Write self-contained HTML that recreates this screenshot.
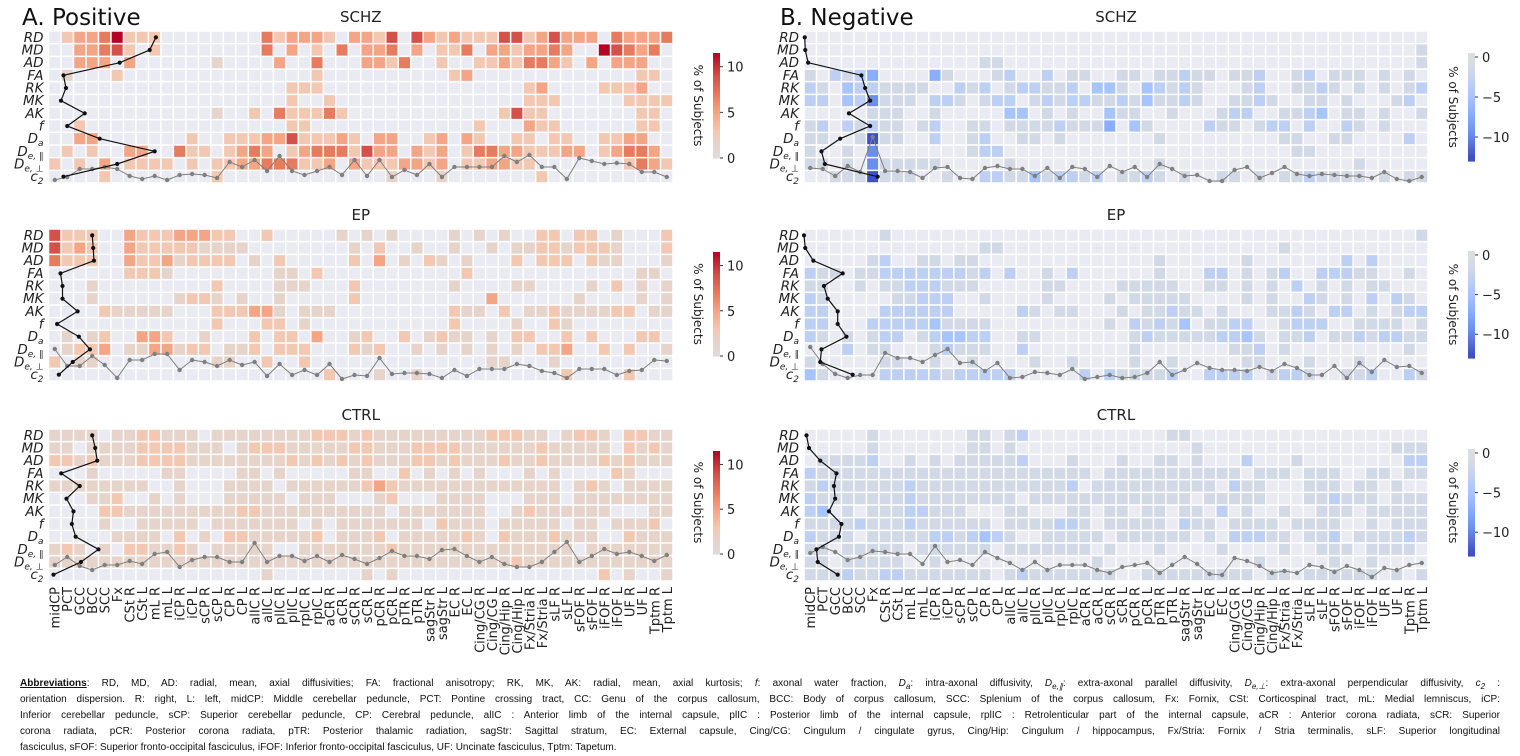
<!DOCTYPE html>
<html><head><meta charset="utf-8">
<style>
html,body{margin:0;padding:0;background:#fff;}
#wrap{position:relative;width:1520px;height:756px;overflow:hidden;}
svg{position:absolute;left:0;top:0;}
.fn{position:absolute;left:20px;width:1480px;height:16px;overflow:hidden;font-family:"Liberation Sans",sans-serif;font-size:10px;line-height:16px;color:#111;text-align:justify;text-align-last:justify;white-space:normal;}
.fn.last{text-align-last:left;}
.fn sub{font-size:8px;line-height:0;}
</style></head>
<body>
<div id="wrap">
<svg id="fig" width="1520" height="756" viewBox="0 0 1520 756" xmlns="http://www.w3.org/2000/svg"></svg>
<div class="fn" style="top:676px"><b><u>Abbreviations</u></b>: RD, MD, AD: radial, mean, axial diffusivities; FA: fractional anisotropy; RK, MK, AK: radial, mean, axial kurtosis; <i>f</i>: axonal water fraction, <i>D<sub>a</sub></i>: intra-axonal diffusivity, <i>D<sub>e,∥</sub></i>: extra-axonal parallel diffusivity, <i>D<sub>e,⊥</sub></i>: extra-axonal perpendicular diffusivity, <i>c<sub>2</sub></i> :</div>
<div class="fn" style="top:692px">orientation dispersion. R: right, L: left, midCP: Middle cerebellar peduncle, PCT: Pontine crossing tract, CC: Genu of the corpus callosum, BCC: Body of corpus callosum, SCC: Splenium of the corpus callosum, Fx: Fornix, CSt: Corticospinal tract, mL: Medial lemniscus, iCP:</div>
<div class="fn" style="top:708px">Inferior cerebellar peduncle, sCP: Superior cerebellar peduncle, CP: Cerebral peduncle, alIC : Anterior limb of the internal capsule, plIC : Posterior limb of the internal capsule, rplIC : Retrolenticular part of the internal capsule, aCR : Anterior corona radiata, sCR: Superior</div>
<div class="fn" style="top:724px">corona radiata, pCR: Posterior corona radiata, pTR: Posterior thalamic radiation, sagStr: Sagittal stratum, EC: External capsule, Cing/CG: Cingulum / cingulate gyrus, Cing/Hip: Cingulum / hippocampus, Fx/Stria: Fornix / Stria terminalis, sLF: Superior longitudinal</div>
<div class="fn last" style="top:740px">fasciculus, sFOF: Superior fronto-occipital fasciculus, iFOF: Inferior fronto-occipital fasciculus, UF: Uncinate fasciculus, Tptm: Tapetum.</div>
</div>
<script>
const tracts = ["midCP","PCT","GCC","BCC","SCC","Fx","CSt R","CSt L","mL R","mL L","iCP R","iCP L","sCP R","sCP L","CP R","CP L","alIC R","alIC L","plIC R","plIC L","rpIC R","rpIC L","aCR R","aCR L","sCR R","sCR L","pCR R","pCR L","pTR R","pTR L","sagStr R","sagStr L","EC R","EC L","Cing/CG R","Cing/CG L","Cing/Hip R","Cing/Hip L","Fx/Stria R","Fx/Stria L","sLF R","sLF L","sFOF R","sFOF L","iFOF R","iFOF L","UF R","UF L","Tptm R","Tptm L"];
const metrics = ["RD","MD","AD","FA","RK","MK","AK","f","Da","Dpar","Dperp","c2"];
const posLevels = [0,1.5,3,5,7,9,11.5];
const negLevels = [0,-1.5,-3,-5,-7,-9.5,-12.5];
const posTicks = [0,5,10];
const negTicks = [0,-5,-10];

const posSCHZ = ["02334622200000000423332033250532322255235333043334020","00334520200000000403020403340302240332334300654340020","00333030000001000030040003324002002232443203033300220","01000200000000000000020000000000230000000000000220020","00000000000000000002220000000000000000230000222300000","00000000000000000002002000000000000000222000002222000","00000000000001002042224200000000000025220000000220000","00200000000000000002200000000000002000322000000220300","00330000000200222335222320330023032002202200223300000","02020033004220234302344425330323024433222330234430222","20203022220202233444223032223323022332200000002432222","00002000000002000000000000010001000000020000000000020"];
const posEP = ["52220032223332200200000101010000101010022022010002230","52320032222211110000000010200100100101122122210002030","42220032231222201020000020301021010002022202110001220","00000022210000000011020000000000020000000000000110120","00010000000002000011100020000000100001100001020101122","00010000001221010010000020000000000300000010000101010","00002111110002223310111000000000211020112111122011102","00000000000002000220100000000000200001002100000000022","01012003320010002022030012002012110102200202000220000","01223011331220112022200021200101010101022300202001202","20110000000001100200200000000000000110001000000000000","00000000000000000000002000100100000000000200002000101"];
const posCTRL = ["11110112211101111111122212111111111222110122102211111","11011112222111012221111122111222211111121111102121111","22121112222111111112121212111221211121121111212111110","00010000011000011010000011002010101000101000021000111","11111111001000111101111112321111111111111012101111121","00011200101000111110111000120001111000111011111111111","00002211111111122111111111101111111001211111100011122","00001001111101111111010111111102111011111011011120111","00000111102010221111120111201111121021112111002111101","12101022112101111100111111121111111111111101111111112","11111111111111111111111111111111111112111111111111111","00000000000000000100000001010000000000000000201001000"];
const negSCHZ = ["00000000000000000000000000000000000000000000000000","00000000000000000000000000000000000000000000000001","00000000000000110000000000000000000000000000000001","10212400004100012002011001101121101120012011101010","21032211110021201221120331032121000120011210101012","22032511102210122012122112131121001121001101000120","00000111001000003301010031100100012200112301101001","12021211012001101111211140310000211012202002101000","11001611002001200110100000001000000000110011000020","10010500000001220000000000000000000000011000000000","11010511111000001000000000001000000000000000100000","00111611100100221131221201121010011010112111101011"];
const negEP = ["00000010000000000000000000000000000000000000000001","00000000000000110000000000000000000000100000000000","00000120011011000000000000001000000100000002020000","21101122222221202001020000001000220101200222110010","11001011222111000001100001111100110101020101011000","21000001122200100001000010111110000101002101020210","22000022222200000210110001011211010001121022010122","22000222223111100000000010212130112200122200111101","21010122012332200110000000121111122310112011212211","00020110001211100200000000100000001120100000000010","10000011001001000010010000100100000110001000100000","31000022222122222000002021111200222201221001120021"];
const negCTRL = ["00000100000001101200000000000110000000000000000000","00000100000001101000000000000001000000000000000111","01111200101011111200010001001101000200010000000022","21111111111111111111111011111111111011101110011011","12111111211111111111120111111111102110001110110100","21111111211111111011111111111110111110001121110111","23010111221110001100011011011011020100100111011111","11112111211111101111221011111021101111011110010111","21110111112212321001111101111110102221101120111121","11011111011111101111111010001000010000100111011110","11011111001000000000000100000000000010000010010000","11121122111111101211111110011111111101101111110101"];

const profAposSCHZ = [8.6,8.1,5.7,1.2,1.4,1.0,2.9,1.5,4.1,8.5,5.5,1.2];
const profAposEP = [3.5,3.58,3.64,0.96,1.12,1.12,2.33,0.69,2.43,3.32,1.94,0.83];
const profAposCTRL = [3.5,3.74,3.9,1.02,2.5,1.44,2.0,1.87,2.17,4.0,2.6,0.4];
const profBnegSCHZ = [0.06,0.1,0.33,4.6,4.9,5.3,3.6,5.3,2.9,1.4,1.67,5.9];
const profBnegEP = [0.0,0.1,0.75,3.1,1.6,1.9,2.7,2.7,3.4,1.4,1.3,3.9];
const profBnegCTRL = [0.2,0.4,1.3,2.6,2.4,2.5,2.0,3.0,2.8,1.0,1.1,2.7];

const c2AposSCHZ = [1,4,12,12,14,12,5,2,5,1,6,7,6,3,19,14,21,10,25,10,6,10,14,6,21,5,21,4,11,6,17,4,14,14,14,14,25,19,26,14,14,2,23,20,17,18,17,9,9,4];
const c2AposEP = [30,13,13,23,14,1,19,19,25,25,9,19,17,13,19,14,17,3,15,4,9,4,15,0,4,3,21,5,6,6,5,1,9,3,10,10,10,15,13,8,6,1,10,10,10,4,8,9,19,18];
const c2AposCTRL = [14,22,13,9,14,14,18,15,25,27,12,19,22,22,17,17,36,17,23,23,18,23,17,24,20,15,21,28,23,23,20,29,30,23,17,22,15,12,12,17,27,37,17,23,30,25,27,23,18,24];
const c2BnegSCHZ = [13,12,5,15,9,44,10,10,9,3,13,14,3,2,13,15,12,12,5,13,3,14,12,4,15,9,14,4,17,12,5,6,0,0,11,14,3,8,14,7,5,7,6,5,5,3,9,2,0,4];
const c2BnegEP = [32,15,5,1,4,4,26,21,21,17,24,30,16,17,8,16,1,2,7,6,4,10,0,2,4,1,2,6,17,4,9,16,11,9,9,8,12,8,15,11,4,4,13,1,16,7,19,12,13,6];
const c2BnegCTRL = [26,32,27,19,22,28,27,25,25,15,33,17,19,14,27,21,16,9,17,9,14,14,14,9,6,12,14,16,6,14,22,15,5,4,21,18,13,6,8,6,14,12,7,13,9,2,11,9,14,16];

const NS = "http://www.w3.org/2000/svg";
const svg = document.getElementById('fig');
function mk(tag, attrs, parent){ const e=document.createElementNS(NS,tag); for(const k in attrs) e.setAttribute(k,attrs[k]); (parent||svg).appendChild(e); return e; }
function hex(c){return [parseInt(c.slice(1,3),16),parseInt(c.slice(3,5),16),parseInt(c.slice(5,7),16)];}
function interp(stops, v){
  const neg = stops[stops.length-1][0] < 0;
  if(neg ? v>=0 : v<=0) return stops[0][1];
  for(let i=0;i<stops.length-1;i++){
    const [a,ca]=stops[i],[b,cb]=stops[i+1];
    if((v>=a&&v<=b)||(v<=a&&v>=b)){const t=(v-a)/(b-a);const A=hex(ca),B=hex(cb);return 'rgb('+A.map((x,j)=>Math.round(x+(B[j]-x)*t)).join(',')+')';}
  }
  return stops[stops.length-1][1];
}
const posStops=[[0,"#dddcdc"],[1.5,"#e6d4cb"],[3,"#f2c8b3"],[5,"#f4a586"],[7,"#e77b60"],[9,"#d6504a"],[11.5,"#b40426"]];
const negStops=[[0,"#dcdddd"],[-1.5,"#d2d9e6"],[-3,"#bdd0f3"],[-5,"#a8c4fc"],[-7,"#8aaefb"],[-9.5,"#6b8df0"],[-12.5,"#3f50c4"]];

const ROWH=152/12;
function drawPanel(o){
  const g=mk('g',{});
  
  
  const x0=o.left, cw=(o.right-o.left)/tracts.length, y0=o.top;
  const xc=i=>x0+(i+0.5)*cw, yc=r=>y0+(r+0.5)*ROWH;
  mk('rect',{x:x0,y:y0,width:o.right-o.left,height:152,fill:'#eaeaf2'},g);
  o.grid.forEach((row,r)=>{
    for(let i=0;i<tracts.length;i++){
      const code=+row[i]||0; if(!code) continue;
      const v=o.levels[code];
      const c=mk('rect',{x:x0+i*cw,y:y0+r*ROWH,width:cw,height:ROWH,fill:interp(o.stops,v)},g);
      
      
    }
  });
  for(let i=0;i<=tracts.length;i++) mk('line',{x1:x0+i*cw,x2:x0+i*cw,y1:y0,y2:y0+152,stroke:'#fff','stroke-width':1.5},g);
  for(let r=0;r<=12;r++) mk('line',{x1:x0,x2:o.right,y1:y0+r*ROWH,y2:y0+r*ROWH,stroke:'#fff','stroke-width':1.5},g);
  const bottom=y0+152;
  const gp=o.c2.map((v,i)=>xc(i)+','+(bottom-2-v)).join(' ');
  const gl=mk('polyline',{points:gp,fill:'none',stroke:'#7f7f7f','stroke-width':1},g);
  
  
  o.c2.forEach((v,i)=>{const d=mk('circle',{cx:xc(i),cy:bottom-2-v,r:2.2,fill:'#7f7f7f'},g);
    
    });
  const bp=o.prof.map((v,r)=>(x0+v*cw)+','+yc(r)).join(' ');
  const bl=mk('polyline',{points:bp,fill:'none',stroke:'#111','stroke-width':1.2},g);
  
  
  o.prof.forEach((v,r)=>{const d=mk('circle',{cx:x0+v*cw,cy:yc(r),r:2.1,fill:'#111'},g);
    
    });
  const labs=[["RD"],["MD"],["AD"],["FA"],["RK"],["MK"],["AK"],["f"],["D","a"],["D","e, ∥"],["D","e, ⊥"],["c","2"]];
  labs.forEach((l,r)=>{
    const t=mk('text',{x:x0-5,y:yc(r)+4.5,'text-anchor':'end','font-family':'DejaVu Sans, sans-serif','font-style':'italic','font-size':13.5,fill:'#222'},g);
    
    
    const a=document.createElementNS(NS,'tspan'); a.textContent=l[0]; t.appendChild(a);
    if(l[1]){const b=document.createElementNS(NS,'tspan'); b.setAttribute('font-size','9'); b.setAttribute('dy','3'); b.textContent=l[1]; t.appendChild(b);}
  });
  const tt=mk('text',{x:(x0+o.right)/2,y:y0-9,'text-anchor':'middle','font-family':'DejaVu Sans, sans-serif','font-size':15,fill:'#222'},g);
  tt.textContent=o.title;
  
  
  const cb=o.cb, vmin=o.vmin, vmax=o.vmax;
  const ys=v=>cb.y1-(v-vmin)/(vmax-vmin)*(cb.y1-cb.y0);
  const n=60;
  for(let k=0;k<n;k++){
    const v=vmin+(vmax-vmin)*(k+0.5)/n;
    mk('rect',{x:cb.x,y:ys(vmin+(vmax-vmin)*(k+1)/n),width:7,height:(cb.y1-cb.y0)/n+0.6,fill:interp(o.stops,v)},g);
  }
  o.ticks.forEach(tv=>{
    mk('line',{x1:cb.x+7,x2:cb.x+10,y1:ys(tv),y2:ys(tv),stroke:'#333','stroke-width':1},g);
    const t=mk('text',{x:cb.x+14,y:ys(tv)+5,'font-family':'DejaVu Sans, sans-serif','font-size':13,fill:'#222'},g);
    t.textContent=(tv<0?'−'+(-tv):tv);
    
    
  });
  const lab=mk('text',{x:0,y:0,'font-family':'DejaVu Sans, sans-serif','font-size':12,fill:'#222','text-anchor':'middle',transform:'translate('+(cb.x-19)+','+((cb.y0+cb.y1)/2)+') rotate(90)'},g);
  lab.textContent='% of Subjects';
  
  
  if(o.xlabels){
    tracts.forEach((tn,i)=>{
      const t=mk('text',{x:0,y:0,'text-anchor':'end','font-family':'DejaVu Sans, sans-serif','font-size':13,fill:'#222',transform:'translate('+(xc(i)+5)+','+(y0+158)+') rotate(-90)'},g);
      t.textContent=tn;
      
      
    });
  }
}
const tops=[31,229,429];
const L={left:48.5,right:673}, R={left:804,right:1428};
const posCB=[{x:713,y0:53,y1:158},{x:713,y0:252,y1:356},{x:713,y0:451,y1:554}];
const negCB=[{x:1468,y0:53,y1:161},{x:1468,y0:251,y1:358},{x:1468,y0:449,y1:556}];
drawPanel({name:'positive-schz-heatmap',title:'SCHZ',left:L.left,right:L.right,top:tops[0],grid:posSCHZ,levels:posLevels,stops:posStops,prof:profAposSCHZ,c2:c2AposSCHZ,cb:posCB[0],vmin:0,vmax:11.5,ticks:posTicks});
drawPanel({name:'positive-ep-heatmap',title:'EP',left:L.left,right:L.right,top:tops[1],grid:posEP,levels:posLevels,stops:posStops,prof:profAposEP,c2:c2AposEP,cb:posCB[1],vmin:0,vmax:11.5,ticks:posTicks});
drawPanel({name:'positive-ctrl-heatmap',title:'CTRL',left:L.left,right:L.right,top:tops[2],grid:posCTRL,levels:posLevels,stops:posStops,prof:profAposCTRL,c2:c2AposCTRL,cb:posCB[2],vmin:0,vmax:11.5,ticks:posTicks,xlabels:true});
drawPanel({name:'negative-schz-heatmap',title:'SCHZ',left:R.left,right:R.right,top:tops[0],grid:negSCHZ,levels:negLevels,stops:negStops,prof:profBnegSCHZ,c2:c2BnegSCHZ,cb:negCB[0],vmin:-13,vmax:0.5,ticks:negTicks});
drawPanel({name:'negative-ep-heatmap',title:'EP',left:R.left,right:R.right,top:tops[1],grid:negEP,levels:negLevels,stops:negStops,prof:profBnegEP,c2:c2BnegEP,cb:negCB[1],vmin:-13,vmax:0.5,ticks:negTicks});
drawPanel({name:'negative-ctrl-heatmap',title:'CTRL',left:R.left,right:R.right,top:tops[2],grid:negCTRL,levels:negLevels,stops:negStops,prof:profBnegCTRL,c2:c2BnegCTRL,cb:negCB[2],vmin:-13,vmax:0.5,ticks:negTicks,xlabels:true});
const ta=mk('text',{x:22,y:25,'font-family':'DejaVu Sans, sans-serif','font-size':23,fill:'#111'});
ta.textContent='A. Positive';


const tb=mk('text',{x:780,y:25,'font-family':'DejaVu Sans, sans-serif','font-size':23,fill:'#111'});
tb.textContent='B. Negative';


</script>
</body></html>
